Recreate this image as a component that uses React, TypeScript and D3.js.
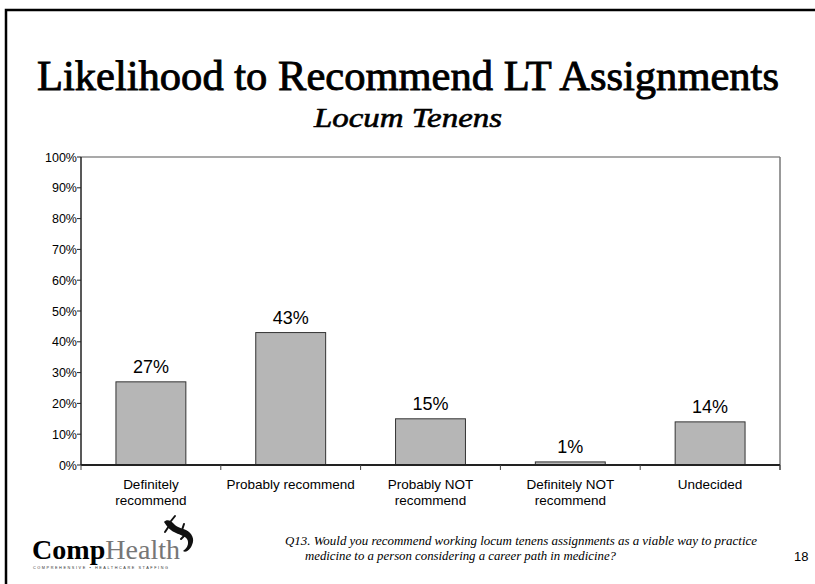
import * as d3 from 'd3';

const categories = [
  ['Definitely', 'recommend'],
  ['Probably recommend'],
  ['Probably NOT', 'recommend'],
  ['Definitely NOT', 'recommend'],
  ['Undecided'],
];
const values = [0.27, 0.43, 0.15, 0.01, 0.14];
const yTicks = [0, 0.1, 0.2, 0.3, 0.4, 0.5, 0.6, 0.7, 0.8, 0.9, 1];

const W = 815;
const H = 584;
const left = 81;
const right = 780;
const top = 157;
const bottom = 465;

const App = () => {
  const keys = categories.map(c => c.join(' '));
  const x = d3.scaleBand().domain(keys).range([left, right]).paddingInner(0.5).paddingOuter(0.25);
  const y = d3.scaleLinear().domain([0, 1]).range([bottom, top]);
  const fmt = d3.format('.0%');
  const step = x.step();
  const bounds = d3.range(keys.length + 1).map(i => left + i * step);

  return (
    <svg width={W} height={H} style={{ position: 'absolute', left: 0, top: 0, background: '#fff' }}>
      <rect x={6} y={10} width={W + 10} height={H + 10} fill="#fff" stroke="#000" strokeWidth={2.5} />

      <text x={408} y={90} textAnchor="middle" fontFamily="Liberation Serif, serif"
        fontSize={42} textLength={742} lengthAdjust="spacingAndGlyphs" stroke="#000" strokeWidth={0.9}>
        Likelihood to Recommend LT Assignments
      </text>
      <text x={408} y={127} textAnchor="middle" fontFamily="Liberation Serif, serif"
        fontStyle="italic" fontSize={27} textLength={188} lengthAdjust="spacingAndGlyphs" stroke="#000" strokeWidth={0.6}>
        Locum Tenens
      </text>

      {/* plot frame */}
      <line x1={left} x2={right} y1={top} y2={top} stroke="#555" strokeWidth={1.2} />
      <line x1={right} x2={right} y1={top} y2={bottom + 5} stroke="#777" strokeWidth={1.5} />

      {/* y axis */}
      <line x1={left} x2={left} y1={top} y2={bottom} stroke="#222" strokeWidth={1.5} />
      {yTicks.map(t => (
        <g key={t}>
          <line x1={left - 4} x2={left} y1={y(t)} y2={y(t)} stroke="#222" />
          <text x={left - 4} y={y(t) + 4.5} textAnchor="end" fontFamily="Liberation Sans, Arial, sans-serif"
            fontSize={12.5} fill="#000">{fmt(t)}</text>
        </g>
      ))}

      {/* bars */}
      {values.map((v, i) => (
        <g key={keys[i]}>
          <rect x={x(keys[i])} y={y(v)} width={x.bandwidth()} height={bottom - y(v)}
            fill="#b6b6b6" stroke="#333" strokeWidth={1} />
          <text x={(x(keys[i]) as number) + x.bandwidth() / 2} y={y(v) - 9} textAnchor="middle"
            fontFamily="Liberation Sans, Arial, sans-serif" fontSize={18} fill="#000">{fmt(v)}</text>
        </g>
      ))}

      {/* x axis */}
      <line x1={left} x2={right} y1={bottom} y2={bottom} stroke="#222" strokeWidth={2} />
      {bounds.map(b => (
        <line key={b} x1={b} x2={b} y1={bottom} y2={bottom + 5} stroke="#444" />
      ))}
      {categories.map((c, i) => (
        <text key={keys[i]} textAnchor="middle" fontFamily="Liberation Sans, Arial, sans-serif" fontSize={13.5} fill="#000">
          {c.map((line, j) => (
            <tspan key={j} x={(x(keys[i]) as number) + x.bandwidth() / 2} y={489 + j * 16}>{line}</tspan>
          ))}
        </text>
      ))}

      {/* logo */}
      <text x={32} y={559} fontFamily="Liberation Serif, serif" fontSize={27} textLength={148} lengthAdjust="spacingAndGlyphs">
        <tspan fontWeight="bold" fill="#000">Comp</tspan>
        <tspan fill="#777">Health</tspan>
      </text>
      <text x={33} y={569} fontFamily="Liberation Sans, sans-serif" fontSize={3.8} fill="#333"
        textLength={135} lengthAdjust="spacing">
        COMPREHENSIVE ▪ HEALTHCARE STAFFING
      </text>
      <path d="M164,522 C166,519 171,520 173,523 C176,527 181,528 186,530 C192,533 195,539 192,545
               C190,550 186,553 183,551 C186,549 190,544 187,539 C185,536 180,535 176,533 C171,531 167,527 164,522 Z"
        fill="#111" />
      <path d="M169,526 L165,532 M171,521 L175,516 M182,530 L184,524 M186,534 L181,539" stroke="#111" strokeWidth={2}
        strokeLinecap="round" />

      {/* question */}
      <text fontFamily="Liberation Serif, serif" fontStyle="italic" fontSize={12} fill="#000">
        <tspan x={285} y={545} textLength={472} lengthAdjust="spacingAndGlyphs">Q13.  Would you recommend working locum tenens assignments as a viable way to practice</tspan>
        <tspan x={305} y={560} textLength={311} lengthAdjust="spacingAndGlyphs">medicine to a person considering a career path in medicine?</tspan>
      </text>
      <text x={794} y={561} fontFamily="Liberation Sans, Arial, sans-serif" fontSize={13} fill="#000">18</text>
    </svg>
  );
};

export default App;
